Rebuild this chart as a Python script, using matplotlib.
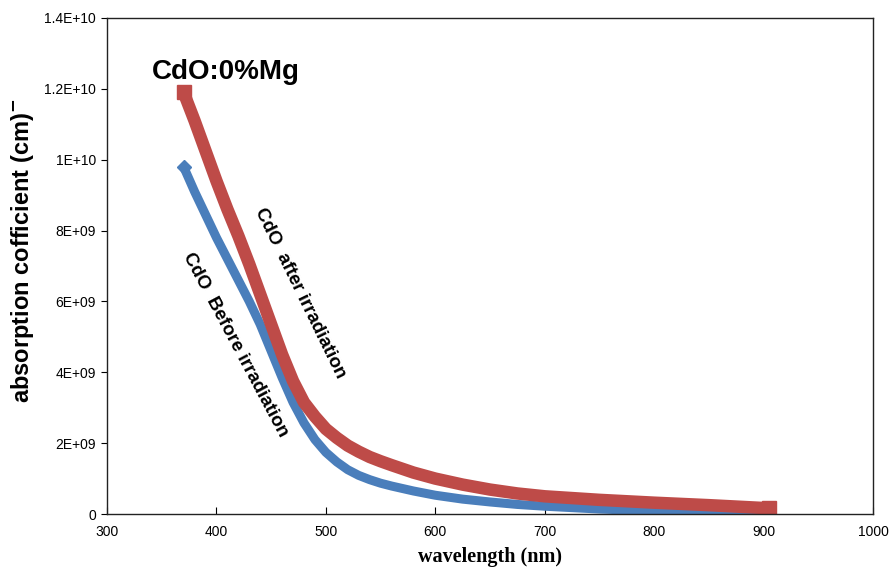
import matplotlib
matplotlib.use("Agg")
import matplotlib.pyplot as plt
import numpy as np

# wavelength (nm) and absorption coefficient (units of 1E+09 cm^-1)
wl = [370, 380, 390, 400, 410, 420, 430, 440, 450, 460, 470, 480, 490, 500,
      510, 520, 530, 540, 550, 560, 580, 600, 625, 650, 675, 700, 750, 800,
      850, 900, 905]
alpha_before = [9.8, 9.1, 8.45, 7.8, 7.2, 6.6, 6.0, 5.35, 4.6, 3.85, 3.15, 2.57,
                2.1, 1.74, 1.47, 1.25, 1.09, 0.97, 0.87, 0.79, 0.65, 0.53,
                0.42, 0.34, 0.27, 0.22, 0.14, 0.09, 0.05, 0.03, 0.03]
alpha_after = [11.9, 11.1, 10.25, 9.4, 8.6, 7.85, 7.05, 6.2, 5.35, 4.5, 3.75,
               3.15, 2.75, 2.4, 2.15, 1.93, 1.76, 1.61, 1.49, 1.38, 1.17, 1.0,
               0.83, 0.69, 0.58, 0.5, 0.4, 0.32, 0.25, 0.17, 0.16]

yticks = [0, 2e9, 4e9, 6e9, 8e9, 1e10, 1.2e10, 1.4e10]
ytick_labels = ["0", "2E+09", "4E+09", "6E+09", "8E+09", "1E+10", "1.2E+10", "1.4E+10"]
xticks = [300, 400, 500, 600, 700, 800, 900, 1000]

blue = "#4a7ebb"
red = "#be4b48"

plt.rcParams["font.family"] = ["Liberation Sans", "DejaVu Sans"]

fig = plt.figure(figsize=(8.89, 5.71), dpi=100)
ax = fig.add_axes([0.1204, 0.0998, 0.8616, 0.8687])

wl = np.array(wl)
before = np.array(alpha_before) * 1e9
after = np.array(alpha_after) * 1e9

# thick lines stand in for the dense marker bands; markers only at the ends
ax.plot(wl, before, color=blue, lw=6.5, marker="D", ms=7, mec=blue,
        markevery=[0, len(wl) - 1], solid_capstyle="butt", solid_joinstyle="round")
ax.plot(wl, after, color=red, lw=9, marker="s", ms=9.5, mec=red,
        markevery=[0, len(wl) - 1], solid_capstyle="butt", solid_joinstyle="round")

ax.set_xlim(300, 1000)
ax.set_ylim(0, 1.4e10)
ax.set_xticks(xticks)
ax.set_yticks(yticks)
ax.set_yticklabels(ytick_labels)
ax.tick_params(axis="x", direction="in", length=5, labelsize=10, pad=8)
ax.tick_params(axis="y", direction="out", length=4, labelsize=10, pad=4)
for s in ax.spines.values():
    s.set_linewidth(1.0)
    s.set_color("#222222")

ax.set_ylabel("absorption cofficient (cm)$^{\\mathbf{-}}$", fontsize=17,
              fontweight="bold")
ax.yaxis.set_label_coords(-0.093, 0.53)
ax.set_xlabel("wavelength (nm)", fontsize=14.5, fontweight="bold",
              family="Liberation Serif", labelpad=6)

ax.text(0.059, 0.891, "CdO:0%Mg", transform=ax.transAxes, fontsize=20,
        fontweight="bold", ha="left", va="center")
ax.text(0.252, 0.445, "CdO  after irradiation", transform=ax.transAxes,
        fontsize=13.5, fontweight="bold", rotation=-64,
        ha="center", va="center", rotation_mode="anchor")
ax.text(0.167, 0.342, "CdO  Before irradiation", transform=ax.transAxes,
        fontsize=13.5, fontweight="bold", rotation=-62,
        ha="center", va="center", rotation_mode="anchor")

fig.savefig("out.png", dpi=100)
